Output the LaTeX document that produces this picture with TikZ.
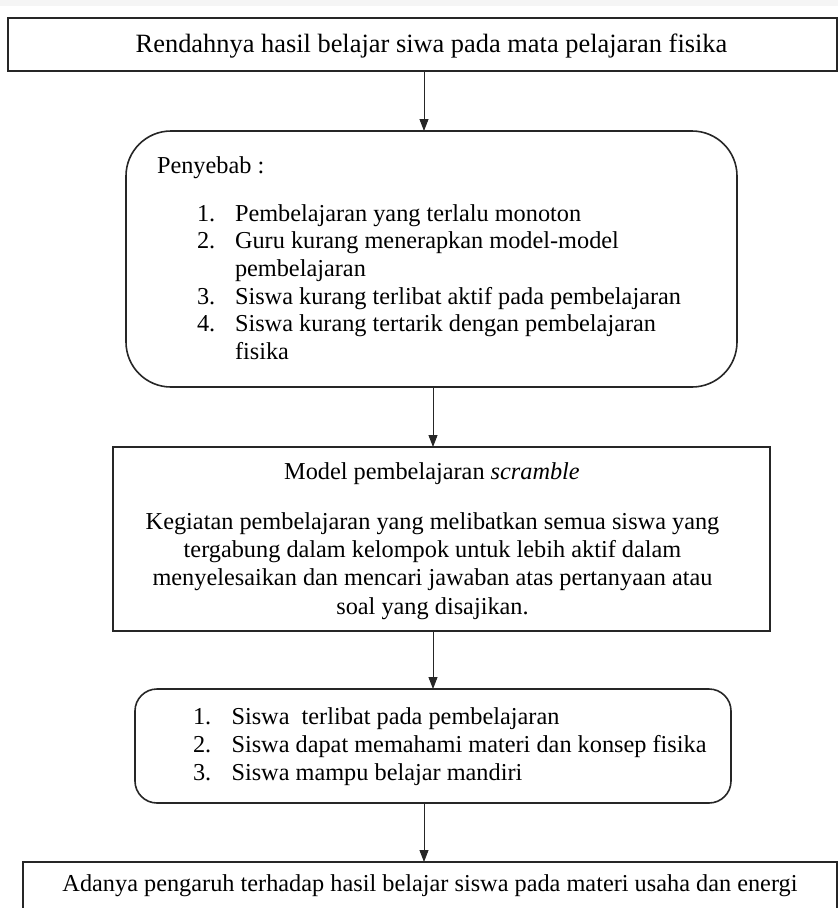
\documentclass[tikz,border=0pt]{standalone}
\usepackage{fontspec}
\setmainfont{Liberation Serif}
\usetikzlibrary{arrows.meta}
\begin{document}
\begin{tikzpicture}[x=1pt,y=-1pt]
\tikzset{
  box/.style={draw=black!85, line width=1.6pt, rectangle, inner sep=0pt, outer sep=0pt},
  txt/.style={inner sep=0pt, outer sep=0pt, font=\fontsize{24.3}{29}\selectfont},
  bigtxt/.style={inner sep=0pt, outer sep=0pt, font=\fontsize{26.4}{31}\selectfont},
  arr/.style={draw=black!85, line width=0.9pt, -{Triangle[length=12pt,width=9pt]}},
}
\useasboundingbox (0,0) rectangle (838,908);
\fill[black!4] (0,0) rectangle (838,6);
% boxes
\node[box, minimum width=829pt, minimum height=53pt] (top) at (422.5,44.5) {};
\node[box, rounded corners=45pt, minimum width=611pt, minimum height=256pt] (pen) at (431.5,259) {};
\node[box, minimum width=657pt, minimum height=184pt] (model) at (441.5,539) {};
\node[box, rounded corners=22pt, minimum width=596pt, minimum height=114pt] (hasil) at (433,746) {};
\node[box, minimum width=814pt, minimum height=90pt] (akhir) at (430,907) {};
% connector columns
\coordinate (c1) at (424,0);
\coordinate (c2) at (433,0);
\coordinate (c3) at (433,0);
\coordinate (c4) at (424,0);
\draw[arr] (top.south -| c1) -- (pen.north -| c1);
\draw[arr] (pen.south -| c2) -- (model.north -| c2);
\draw[arr] (model.south -| c3) -- (hasil.north -| c3);
\draw[arr] (hasil.south -| c4) -- (akhir.north -| c4);
% texts
\node[bigtxt, anchor=base] (t0) at (431.5,52) {Rendahnya hasil belajar siwa pada mata pelajaran fisika};
\node[txt, anchor=base west] (p0) at (157,173.5) {Penyebab :};
\node[txt, anchor=base west] (pn1) at (197,221) {1.};
\node[txt, anchor=base west] (pt1) at (235,221) {Pembelajaran yang terlalu monoton};
\node[txt, anchor=base west] (pn2) at (197,248.7) {2.};
\node[txt, anchor=base west] (pt2) at (235,248.7) {Guru kurang menerapkan model-model};
\node[txt, anchor=base west] (pt2b) at (235,276.3) {pembelajaran};
\node[txt, anchor=base west] (pn3) at (197,304) {3.};
\node[txt, anchor=base west] (pt3) at (235,304) {Siswa kurang terlibat aktif pada pembelajaran};
\node[txt, anchor=base west] (pn4) at (197,331.7) {4.};
\node[txt, anchor=base west] (pt4) at (235,331.7) {Siswa kurang tertarik dengan pembelajaran};
\node[txt, anchor=base west] (pt4b) at (235,359.3) {fisika};
\node[txt, anchor=base] (m0) at (432,479) {Model pembelajaran \textit{scramble}};
\node[txt, anchor=base] (m1) at (432.5,529) {Kegiatan pembelajaran yang melibatkan semua siswa yang};
\node[txt, anchor=base] (m2) at (432.5,557.3) {tergabung dalam kelompok untuk lebih aktif dalam};
\node[txt, anchor=base] (m3) at (432.5,585.6) {menyelesaikan dan mencari jawaban atas pertanyaan atau};
\node[txt, anchor=base] (m4) at (432.5,614) {soal yang disajikan.};
\node[txt, anchor=base west] (hn1) at (193,724.5) {1.};
\node[txt, anchor=base west] (ht1) at (231.5,724.5) {Siswa\ \ terlibat pada pembelajaran};
\node[txt, anchor=base west] (hn2) at (193,752.5) {2.};
\node[txt, anchor=base west] (ht2) at (231.5,752.5) {Siswa dapat memahami materi dan konsep fisika};
\node[txt, anchor=base west] (hn3) at (193,780) {3.};
\node[txt, anchor=base west] (ht3) at (231.5,780) {Siswa mampu belajar mandiri};
\node[txt, anchor=base] (a0) at (430,891.5) {Adanya pengaruh terhadap hasil belajar siswa pada materi usaha dan energi};
\end{tikzpicture}
\end{document}
